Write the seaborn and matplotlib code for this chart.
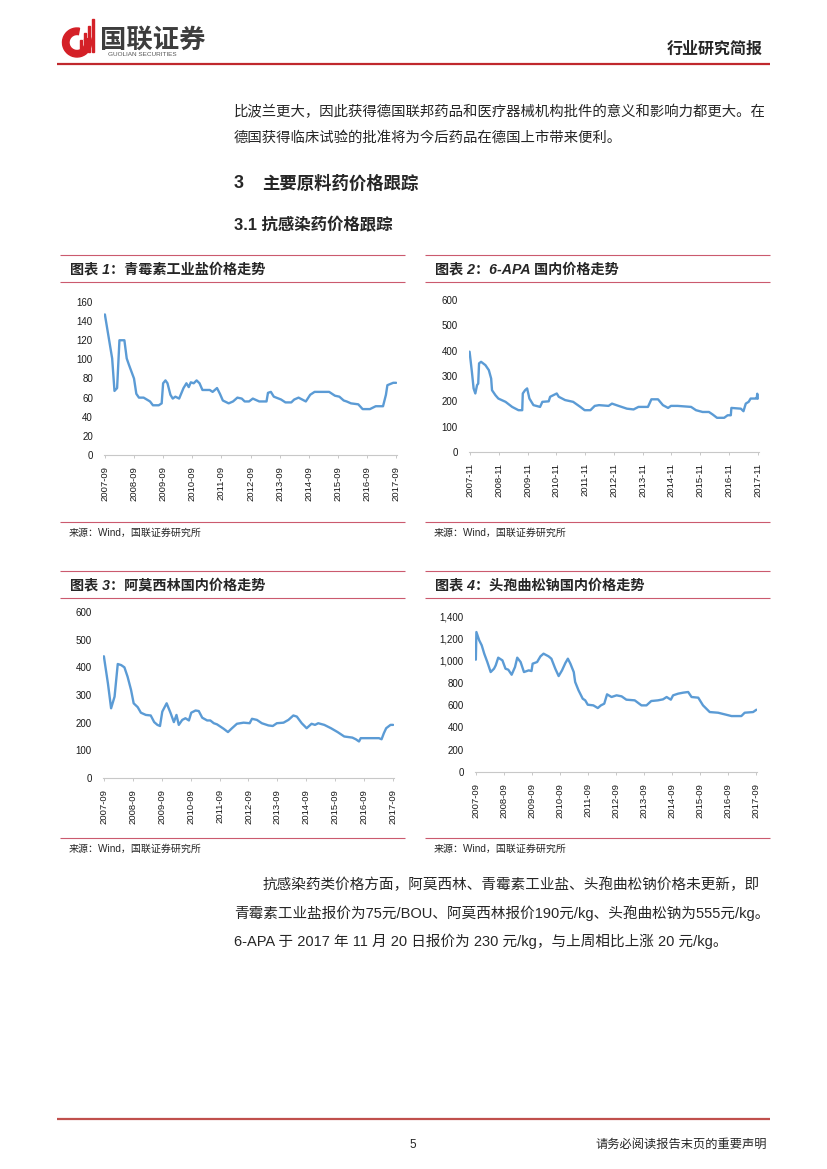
import matplotlib
matplotlib.use("Agg")
import matplotlib.pyplot as plt
import matplotlib.patches as mpatches
from matplotlib.ticker import FuncFormatter
from matplotlib.transforms import Bbox
import pandas as pd
import seaborn as sns

# ---- data ----
# 图表1 青霉素工业盐
pen_t = [2007.75, 2008.0, 2008.08, 2008.17, 2008.25, 2008.42, 2008.5, 2008.58, 2008.75, 2008.83,
         2008.92, 2009.08, 2009.3, 2009.4, 2009.6, 2009.7, 2009.75, 2009.83, 2009.9, 2010.0,
         2010.08, 2010.17, 2010.3, 2010.45, 2010.55, 2010.63, 2010.7, 2010.8, 2010.9, 2011.0,
         2011.1, 2011.35, 2011.45, 2011.6, 2011.7, 2011.8, 2012.0, 2012.15, 2012.3, 2012.45,
         2012.55, 2012.7, 2012.83, 2013.05, 2013.3, 2013.35, 2013.45, 2013.55, 2013.8, 2013.95,
         2014.15, 2014.25, 2014.4, 2014.65, 2014.8, 2014.95, 2015.45, 2015.65, 2015.8, 2015.95,
         2016.05, 2016.2, 2016.45, 2016.6, 2016.85, 2017.05, 2017.3, 2017.4, 2017.45, 2017.65,
         2017.75]
pen_v = [147, 101, 67, 70, 120, 120, 101, 94, 80, 64,
         60, 60, 56, 52, 52, 54, 75, 78, 75, 63,
         59, 61, 59, 70, 75, 71, 76, 75, 78, 75,
         68, 68, 66, 70, 64, 57, 54, 56, 60, 59,
         56, 56, 59, 56, 56, 65, 66, 61, 58, 55,
         55, 58, 60, 56, 63, 66, 66, 62, 61, 57,
         56, 54, 53, 48, 48, 51, 51, 63, 73, 75.5,
         75.5]
pen_ticks = ["2007-09", "2008-09", "2009-09", "2010-09", "2011-09", "2012-09",
             "2013-09", "2014-09", "2015-09", "2016-09", "2017-09"]

# 图表2 6-APA
apa_t = [2007.9, 2007.98, 2008.04, 2008.1, 2008.16, 2008.2, 2008.23, 2008.3, 2008.45, 2008.57,
         2008.65, 2008.68, 2008.8, 2008.9, 2009.15, 2009.38, 2009.6, 2009.73, 2009.75, 2009.83,
         2009.9, 2009.98, 2010.12, 2010.35, 2010.43, 2010.65, 2010.7, 2010.93, 2011.0, 2011.22,
         2011.5, 2011.75, 2011.9, 2012.1, 2012.25, 2012.4, 2012.73, 2012.85, 2013.08, 2013.37,
         2013.6, 2013.77, 2014.1, 2014.22, 2014.45, 2014.62, 2014.8, 2014.9, 2015.13, 2015.6,
         2015.77, 2016.0, 2016.22, 2016.35, 2016.5, 2016.75, 2016.87, 2016.98, 2017.0, 2017.33,
         2017.42, 2017.5, 2017.6, 2017.67, 2017.83, 2017.88, 2017.9, 2017.92]
apa_v = [396, 317, 251, 231, 264, 270, 350, 356, 343, 323,
         290, 244, 224, 211, 198, 178, 165, 165, 231, 244,
         251, 211, 185, 178, 198, 200, 218, 231, 218, 205,
         198, 178, 165, 165, 182, 185, 182, 191, 182, 171,
         168, 178, 178, 208, 208, 185, 174, 182, 182, 178,
         165, 158, 158, 148, 135, 135, 145, 145, 174, 171,
         161, 191, 198, 211, 211, 211, 230, 211]
apa_ticks = ["2007-11", "2008-11", "2009-11", "2010-11", "2011-11", "2012-11",
             "2013-11", "2014-11", "2015-11", "2016-11", "2017-11"]

# 图表3 阿莫西林
amo_t = [2007.75, 2007.89, 2008.0, 2008.12, 2008.23, 2008.35, 2008.46, 2008.57, 2008.69, 2008.78,
         2008.92, 2009.03, 2009.2, 2009.37, 2009.49, 2009.6, 2009.69, 2009.77, 2009.92, 2010.06,
         2010.17, 2010.26, 2010.34, 2010.46, 2010.57, 2010.69, 2010.77, 2010.92, 2011.03, 2011.15,
         2011.32, 2011.43, 2011.55, 2011.66, 2011.89, 2012.04, 2012.18, 2012.35, 2012.58, 2012.79,
         2012.87, 2013.04, 2013.21, 2013.44, 2013.59, 2013.73, 2013.96, 2014.13, 2014.3, 2014.42,
         2014.59, 2014.76, 2014.93, 2015.05, 2015.16, 2015.37, 2015.6, 2015.83, 2016.06, 2016.34,
         2016.46, 2016.57, 2016.63, 2017.26, 2017.35, 2017.43, 2017.51, 2017.66, 2017.75]
amo_v = [440, 342, 252, 294, 412, 408, 400, 366, 318, 270,
         256, 236, 228, 226, 202, 192, 188, 240, 270, 234,
         202, 228, 192, 210, 216, 208, 236, 244, 242, 218,
         208, 208, 198, 194, 178, 166, 180, 196, 200, 198,
         214, 210, 198, 190, 188, 198, 200, 210, 226, 222,
         198, 180, 196, 192, 198, 192, 180, 166, 150, 146,
         140, 132, 144, 144, 140, 162, 180, 192, 192]
amo_ticks = pen_ticks

# 图表4 头孢曲松钠
cef_t = [2007.75, 2007.77, 2007.87, 2007.96, 2008.05, 2008.16, 2008.28, 2008.4, 2008.46, 2008.55,
         2008.7, 2008.81, 2008.91, 2009.03, 2009.15, 2009.23, 2009.35, 2009.47, 2009.64, 2009.74,
         2009.78, 2009.94, 2010.06, 2010.17, 2010.35, 2010.45, 2010.59, 2010.71, 2010.83, 2010.95,
         2011.04, 2011.13, 2011.25, 2011.3, 2011.42, 2011.57, 2011.66, 2011.75, 2011.95, 2012.11,
         2012.22, 2012.34, 2012.44, 2012.6, 2012.78, 2012.96, 2013.13, 2013.43, 2013.67, 2013.85,
         2014.02, 2014.26, 2014.44, 2014.57, 2014.72, 2014.8, 2014.98, 2015.16, 2015.34, 2015.46,
         2015.7, 2015.87, 2016.11, 2016.41, 2016.65, 2016.89, 2017.24, 2017.36, 2017.66, 2017.78]
cef_v = [1008, 1256, 1182, 1137, 1062, 987, 897, 927, 957, 1026,
         1002, 927, 918, 873, 942, 1026, 987, 897, 912, 906,
         972, 987, 1038, 1062, 1038, 1017, 927, 861, 912, 978,
         1017, 972, 897, 808, 733, 658, 643, 604, 598, 574,
         598, 613, 697, 673, 688, 679, 649, 643, 598, 598,
         637, 643, 652, 673, 649, 688, 703, 712, 718, 673,
         667, 598, 538, 532, 517, 502, 502, 532, 538, 559]
cef_ticks = pen_ticks

W, H = 827, 1169
BLUE = "#5B9BD5"
PINK = "#CB5A6E"
DARKRED = "#C0282D"
LATIN_CJK = ["Liberation Sans", "Noto Sans CJK SC", "DejaVu Sans"]

sns.set_style("white")
plt.rcParams["font.family"] = LATIN_CJK

fig = plt.figure(figsize=(W / 100, H / 100), dpi=100)
bg = fig.add_axes([0, 0, 1, 1])
bg.set_xlim(0, W)
bg.set_ylim(H, 0)
bg.axis("off")


def txt(x, y, s, size, **kw):
    kw.setdefault("va", "center")
    kw.setdefault("ha", "left")
    bg.text(x, y, s, fontsize=size, family=LATIN_CJK, **kw)


def hline(y, x0, x1, color, lw):
    bg.plot([x0, x1], [y, y], color=color, lw=lw, solid_capstyle="butt")


# ---- header ----
bg.add_patch(mpatches.Wedge((77, 42.5), 14.5, -20, 280, width=6.5, color="#D42027"))
for bx, top in zip([80, 84, 88, 92], [40, 33, 26, 19]):
    bg.add_patch(mpatches.Rectangle((bx, top), 2.4, 52 - top, color="#D42027"))
txt(100, 40, "国联证券", 19, fontweight="bold", color="#3D3D3D")
txt(108, 54, "GUOLIAN SECURITIES", 4.6, color="#555555")
txt(763, 49, "行业研究简报", 11.5, fontweight="bold", ha="right")
hline(63.5, 57, 770, DARKRED, 1.6)

# ---- body ----
txt(234, 112, "比波兰更大，因此获得德国联邦药品和医疗器械机构批件的意义和影响力都更大。在", 10.35)
txt(234, 138, "德国获得临床试验的批准将为今后药品在德国上市带来便利。", 10.35)
txt(234, 183, "3", 13, fontweight="bold")
txt(262, 183, "主要原料药价格跟踪", 12.5, fontweight="bold")
txt(234, 225, "3.1 抗感染药价格跟踪", 11.8, fontweight="bold")

# ---- charts ----
charts = [
    dict(t=pen_t, v=pen_v, ticks=pen_ticks, ymax=160, ystep=20, box=(104, 302, 397, 455),
         xlim=(2007.72, 2017.78), title="图表 1：青霉素工业盐价格走势",
         block=(60, 405, 255, 282, 522), clip=397.5),
    dict(t=apa_t, v=apa_v, ticks=apa_ticks, ymax=600, ystep=100, box=(469, 300, 759, 452),
         xlim=(2007.88, 2017.96), title="图表 2：6-APA 国内价格走势",
         block=(425, 770, 255, 282, 522), clip=None),
    dict(t=amo_t, v=amo_v, ticks=amo_ticks, ymax=600, ystep=100, box=(103, 612, 394, 778),
         xlim=(2007.72, 2017.78), title="图表 3：阿莫西林国内价格走势",
         block=(60, 405, 571, 598, 838), clip=394.5),
    dict(t=cef_t, v=cef_v, ticks=cef_ticks, ymax=1400, ystep=200, box=(475, 616, 757, 772),
         xlim=(2007.72, 2017.8), title="图表 4：头孢曲松钠国内价格走势",
         block=(425, 770, 571, 598, 838), clip=None),
]

axes = []
for c in charts:
    bx0, bx1, ytop, ytitle, ybot = c["block"]
    hline(ytop, bx0, bx1, PINK, 0.8)
    hline(ytitle, bx0, bx1, PINK, 0.8)
    hline(ybot, bx0, bx1, PINK, 0.8)
    txt(bx0 + 10, (ytop + ytitle) / 2 + 1, c["title"], 10.2, fontweight="bold", fontstyle="italic")
    txt(bx0 + 9, ybot + 11, "来源：Wind，国联证券研究所", 7.2)

    x0, y0, x1, y1 = c["box"]
    ax = fig.add_axes([x0 / W, 1 - y1 / H, (x1 - x0) / W, (y1 - y0) / H])
    df = pd.DataFrame({"t": c["t"], "v": c["v"]})
    sns.lineplot(data=df, x="t", y="v", ax=ax, color=BLUE, linewidth=1.7,
                 estimator=None, sort=False)
    ax.set_xlim(*c["xlim"])
    ax.set_ylim(0, c["ymax"])
    ax.set_yticks(range(0, c["ymax"] + 1, c["ystep"]))
    ax.yaxis.set_major_formatter(FuncFormatter(lambda v, p: f"{v:,.0f}"))
    pos = [int(s[:4]) + int(s[5:]) / 12 for s in c["ticks"]]
    ax.set_xticks(pos)
    ax.set_xticklabels(c["ticks"], rotation=90, va="top", ha="center")
    ax.set_xlabel("")
    ax.set_ylabel("")
    ax.patch.set_alpha(0)
    for side in ["left", "top", "right"]:
        ax.spines[side].set_visible(False)
    ax.spines["bottom"].set_color("#C8C8C8")
    ax.spines["bottom"].set_linewidth(0.8)
    ax.tick_params(axis="x", length=2.5, width=0.7, color="#C8C8C8", pad=5.5,
                   labelsize=6.8, labelcolor="#1a1a1a", direction="out", bottom=True)
    ax.tick_params(axis="y", length=0, pad=8.0, labelsize=7.0, labelcolor="#1a1a1a")
    axes.append(ax)

# the right-most date label is cut by the chart frame in the original
fig.canvas.draw()
for ax, c in zip(axes, charts):
    if c["clip"]:
        for tick in ax.xaxis.get_major_ticks()[-1:]:
            tick.label1.set_clip_on(True)
            tick.label1.set_clip_box(Bbox.from_extents(0, 0, c["clip"], H))

# ---- closing paragraph ----
txt(263, 885, "抗感染药类价格方面，阿莫西林、青霉素工业盐、头孢曲松钠价格未更新，即", 10.5)
txt(234, 913, "青霉素工业盐报价为75元/BOU、阿莫西林报价190元/kg、头孢曲松钠为555元/kg。", 10.5)
txt(234, 941, "6-APA 于 2017 年 11 月 20 日报价为 230 元/kg，与上周相比上涨 20 元/kg。", 10.5)

# ---- footer ----
hline(1119, 57, 770, "#C0504D", 1.6)
txt(413, 1145, "5", 8.5, ha="center")
txt(767, 1145, "请务必阅读报告末页的重要声明", 8.8, ha="right")

fig.savefig("out.png", dpi=100)
